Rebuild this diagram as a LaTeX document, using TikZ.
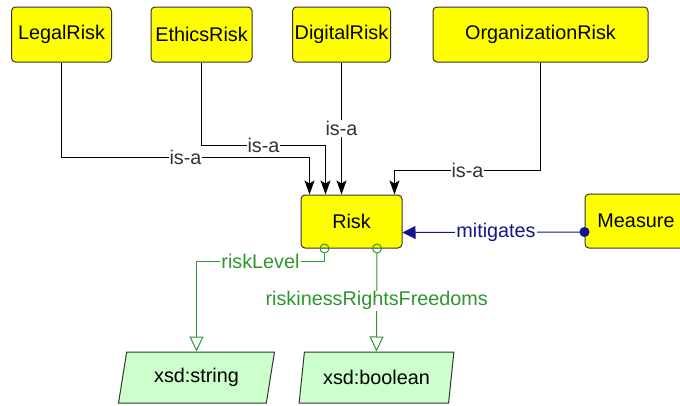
\documentclass[tikz,border=0pt]{standalone}
\usepackage{fontspec}
\setmainfont{Liberation Sans}
\usepackage{tikz}
\usetikzlibrary{arrows.meta,shapes.geometric,calc}
\definecolor{classyellow}{RGB}{255,255,0}
\definecolor{dtgreen}{RGB}{204,255,204}
\definecolor{propgreen}{RGB}{46,150,46}
\definecolor{objblue}{RGB}{20,20,140}
\definecolor{edgegray}{RGB}{51,51,51}

\begin{document}
\begin{tikzpicture}[x=1pt,y=-1pt,line width=1pt,
  font=\fontsize{19.8}{24}\selectfont,
  class/.style={draw=edgegray,fill=classyellow,rounded corners=4pt,minimum height=55pt,inner sep=0pt},
  datatype/.style={draw=edgegray,fill=dtgreen,trapezium,trapezium left angle=75,trapezium right angle=105,
    trapezium stretches=true,minimum width=157pt,minimum height=51pt,inner sep=0pt},
  isa/.style={draw=black,-{Stealth[length=14pt,width=10pt,inset=3pt]}},
  isalbl/.style={fill=white,text=edgegray,inner sep=1pt},
  mitig/.style={draw=objblue,{Circle[length=10pt]}-{Triangle[length=13pt,width=13pt]}},
  mitiglbl/.style={fill=white,text=objblue,inner sep=1pt},
  dataprop/.style={draw=propgreen,{Circle[open,length=10pt]}-{Triangle[open,fill=white,length=15pt,width=14pt]}},
  proplbl/.style={fill=white,text=propgreen,inner sep=1pt}]
  \useasboundingbox (0,0) rectangle (680,405);
  \clip (0,0) rectangle (680,405);

  % classes
  \node[class,minimum width=100pt] (legal) at (61.5,34.5) {LegalRisk};
  \node[class,minimum width=101pt] (ethics) at (201.5,34.5) {EthicsRisk};
  \node[class,minimum width=98pt] (digital) at (341.5,34.5) {DigitalRisk};
  \node[class,minimum width=215pt] (org) at (540.5,34.5) {OrganizationRisk};
  \node[class,minimum width=101pt,minimum height=53pt] (risk) at (351.5,221.5) {Risk};
  \node[class,minimum width=102pt,minimum height=54pt] (measure) at (636,221) {Measure};

  % datatypes
  \node[datatype] (str) at (196.5,377.5) {xsd:string};
  \node[datatype,minimum width=155pt] (bool) at (376.5,377.5) {xsd:boolean};

  % subclass edges
  \draw[isa] (legal.south) -- ++(0,95) -| ($(risk.north west)+(9,0)$) node[isalbl,pos=0.25] {is-a};
  \draw[isa] (ethics.south) -- ++(0,83) -| ($(risk.north west)+(25,0)$) node[isalbl,pos=0.25] {is-a};
  \draw[isa] (digital.south) -- (digital.south |- risk.north) node[isalbl,midway] {is-a};
  \draw[isa] (org.south) -- ++(0,108) -| ($(risk.north east)+(-8,0)$) node[isalbl,pos=0.25] {is-a};

  % object property
  \draw[mitig] ($(measure.west)+(5,11)$) -- ($(risk.east)+(0,11)$) node[mitiglbl,midway] {mitigates};

  % datatype properties
  \draw[dataprop] ($(risk.south west)+(24,-5)$) -- ++(0,18) -| (str.north) node[proplbl,pos=0.25] {riskLevel};
  \draw[dataprop] ($(risk.south east)+(-25.5,-5)$) -- (bool.north) node[proplbl,pos=0.53] {riskinessRightsFreedoms};
\end{tikzpicture}
\end{document}
